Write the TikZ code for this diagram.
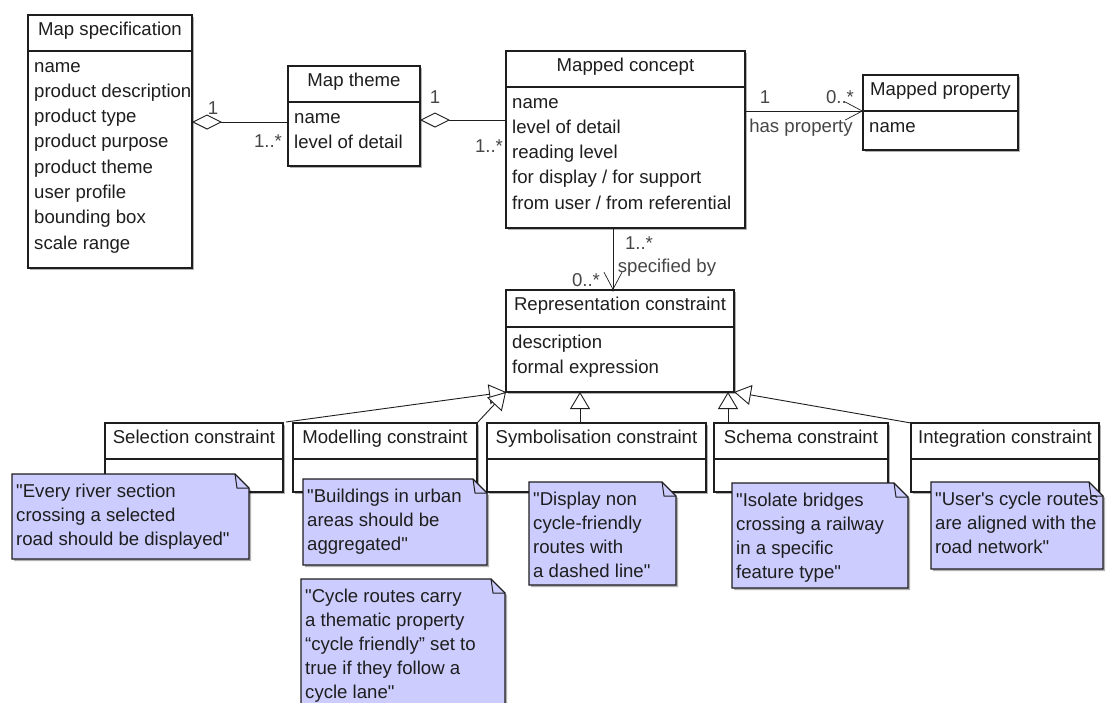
\documentclass[tikz,border=0pt]{standalone}
\usepackage{fontspec}
\newfontfamily\uf{Liberation Sans}
\usetikzlibrary{arrows.meta,calc,shadows}
\definecolor{notefill}{RGB}{204,204,255}
\definecolor{lblgray}{RGB}{70,70,70}
\definecolor{ink}{RGB}{30,30,30}
\tikzset{
  x=1pt, y=-1pt,
  txtfont/.style={font={\uf\fontsize{18.6}{22}\selectfont}},
  boxshadow/.style={drop shadow={shadow xshift=2pt, shadow yshift=-2pt, opacity=.3, fill=black}},
  clsbox/.style={draw=ink, line width=1.2pt, fill=white, inner sep=0pt, outer sep=0pt, boxshadow},
  divline/.style={draw=ink, line width=1.1pt},
  clstitle/.style={txtfont, anchor=base, inner sep=0pt, text=ink},
  attr/.style={txtfont, anchor=base west, inner sep=0pt, text=ink},
  notebody/.style={draw=ink, line width=1.1pt, fill=notefill, boxshadow},
  notefold/.style={draw=ink, line width=1pt},
  notetext/.style={txtfont, anchor=base west, inner sep=0pt, text=ink},
  lbl/.style={txtfont, anchor=center, inner sep=0pt, text=lblgray},
  conn/.style={draw=ink, line width=0.9pt},
  aggr/.style={conn, {Diamond[open,fill=white,length=30pt,width=15pt,line width=0.9pt]}-},
  gen/.style={conn, -{Triangle[open,fill=white,length=17pt,width=20pt,line width=0.9pt]}},
  nav/.style={conn, -{Straight Barb[length=17pt,width=18pt,line width=0.7pt]}},
}
\newcommand\umlclass[8]{%
  \node[clsbox, minimum width={#4-#2}, minimum height={#5-#3}] (#1) at ({(#2+#4)/2},{(#3+#5)/2}) {};
  \draw[divline] ($(#1.north west)+(0,#6-#3)$) -- ($(#1.north east)+(0,#6-#3)$);
  \node[clstitle] (#1-t) at ({(#2+#4)/2},{#3+20.5}) {#7};
  \foreach \txt [count=\i] in {#8} {\node[attr] (#1-a\i) at ({#2+6},{#6+21+(\i-1)*25.3}) {\txt};}
}
\newcommand\umlnote[6]{%
  \node[inner sep=0pt, outer sep=0pt, minimum width={#4-#2}, minimum height={#5-#3}] (#1) at ({(#2+#4)/2},{(#3+#5)/2}) {};
  \draw[notebody] (#1.north west) -- ($(#1.north east)+(-14,0)$) -- ($(#1.north east)+(0,14)$) -- (#1.south east) -- (#1.south west) -- cycle;
  \draw[notefold] ($(#1.north east)+(-14,0)$) -- ($(#1.north east)+(-12,14)$) -- ($(#1.north east)+(0,14)$);
  \foreach \txt [count=\i] in {#6} {\node[notetext] (#1-l\i) at ({#2+4},{#3+23+(\i-1)*24}) {\txt};}
}
\begin{document}
\begin{tikzpicture}
\useasboundingbox (0,0) rectangle (1113,702);
\clip (0,0) rectangle (1113,702);
\fill[white] (0,0) rectangle (1113,702);

% classes
\umlclass{ms}{28}{15}{192}{268}{51}{Map specification}{name,product description,product type,product purpose,product theme,user profile,bounding box,scale range}
\umlclass{mt}{288}{66}{420}{166}{102}{Map theme}{name,level of detail}
\umlclass{mc}{506}{51}{745}{228}{87}{Mapped concept}{name,level of detail,reading level,for display / for support,from user / from referential}
\umlclass{mp}{863}{75}{1018}{150}{111}{Mapped property}{name}
\umlclass{rc}{506}{290}{734}{392}{327}{Representation constraint}{description,formal expression}
\umlclass{sel}{105}{423}{283}{492}{459}{Selection constraint}{}
\umlclass{mod}{293}{423}{477}{492}{459}{Modelling constraint}{}
\umlclass{sym}{487}{423}{706}{492}{459}{Symbolisation constraint}{}
\umlclass{sch}{714}{423}{888}{492}{459}{Schema constraint}{}
\umlclass{int}{911}{423}{1099}{492}{459}{Integration constraint}{}

% aggregations
\draw[aggr] ($(ms.north east)+(0,107)$) -- ($(mt.north west)+(0,56)$);
\draw[aggr] ($(mt.north east)+(0,54)$) -- ($(mc.north west)+(0,69)$);
\node[lbl] (l1) at (213,108) {1};
\node[lbl] (l2) at (268,141) {1..*};
\node[lbl] (l3) at (435,97) {1};
\node[lbl] (l4) at (489,146) {1..*};

% has property
\draw[nav] ($(mc.north east)+(0,60)$) -- ($(mp.north west)+(0,36)$);
\fill[ink] ($(mp.north west)+(0,36)$) circle (1.6);
\node[lbl] (l5) at (765,97) {1};
\node[lbl] (l6) at (840,97) {0..*};
\node[lbl] (l7) at (801,128) {has property};

% specified by
\draw[nav] ($(mc.south west)+(107,0)$) -- ($(rc.north west)+(107,0)$);
\fill[ink] ($(rc.north west)+(107,0)$) circle (1.6);
\node[lbl] (l8) at (639,243) {1..*};
\node[lbl] (l9) at (667,268) {specified by};
\node[lbl] (l10) at (586,280) {0..*};

% generalizations
\draw[gen] ($(sel.north east)+(3,-1)$) -- (rc.south west);
\draw[gen] (mod.north east) -- (rc.south west);
\draw[gen] ($(sym.north west)+(93,0)$) -- ($(rc.south west)+(74,0)$);
\draw[gen] ($(sch.north west)+(14,0)$) -- ($(rc.south east)+(-6,0)$);
\draw[gen] (int.north west) -- (rc.south east);

% notes
\umlnote{n1}{12}{474}{249}{559}{"Every river section,crossing a selected,road should be displayed"}
\umlnote{n2}{303}{479}{487}{565}{"Buildings in urban,areas should be,aggregated"}
\umlnote{n3}{301}{579}{505}{712}{"Cycle routes carry,a thematic property,“cycle friendly” set to,true if they follow a,cycle lane"}
\umlnote{n4}{529}{482}{676}{585}{"Display non,cycle-friendly,routes with,a dashed line"}
\umlnote{n5}{732}{483}{908}{588}{"Isolate bridges,crossing a railway,in a specific,feature type"}
\umlnote{n6}{931}{482}{1103}{569}{"User's cycle routes,are aligned with the,road network"}
\end{tikzpicture}
\end{document}
